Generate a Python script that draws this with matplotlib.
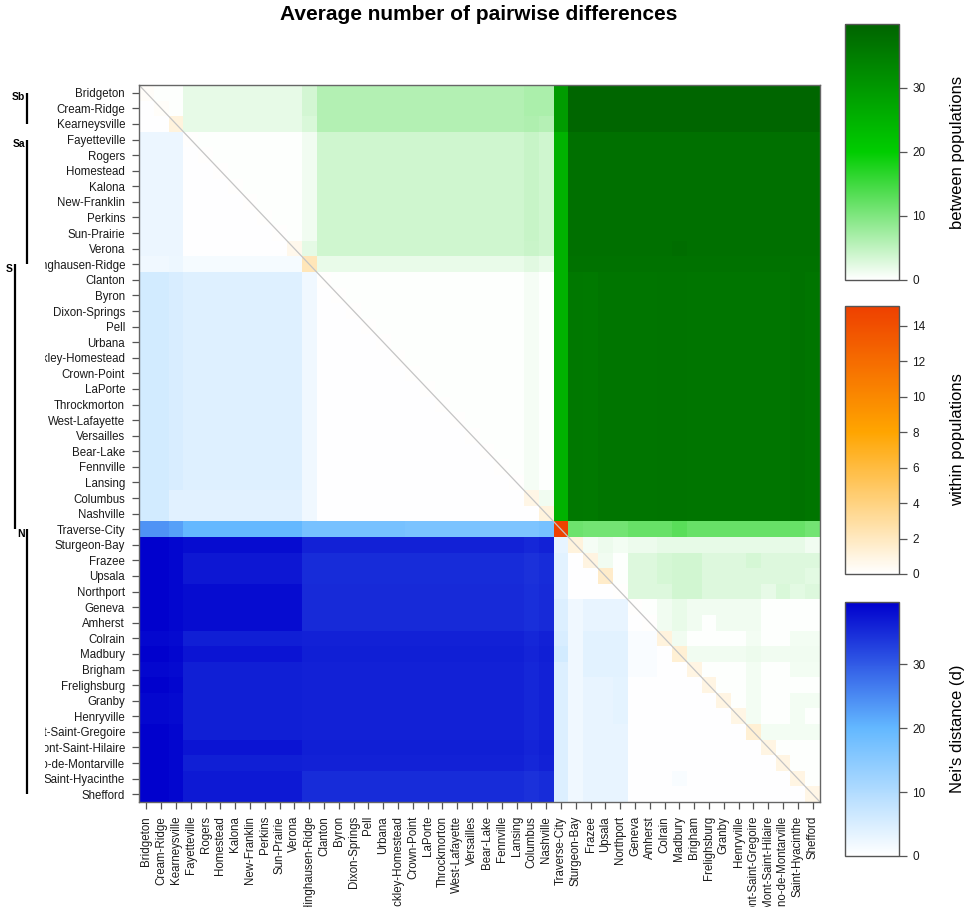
import numpy as np
import matplotlib
matplotlib.use("Agg")
import matplotlib.pyplot as plt
from matplotlib.colors import LinearSegmentedColormap, Normalize
from matplotlib.cm import ScalarMappable
from matplotlib.transforms import Bbox, TransformedBbox, blended_transform_factory

plt.rcParams['font.family'] = ['Liberation Sans', 'DejaVu Sans']

# ---------------- data ----------------
populations = ["Bridgeton", "Cream-Ridge", "Kearneysville", "Fayetteville", "Rogers",
               "Homestead", "Kalona", "New-Franklin", "Perkins", "Sun-Prairie", "Verona",
               "Hinghausen-Ridge", "Clanton", "Byron", "Dixon-Springs", "Pell", "Urbana",
               "Buckley-Homestead", "Crown-Point", "LaPorte", "Throckmorton", "West-Lafayette",
               "Versailles", "Bear-Lake", "Fennville", "Lansing", "Columbus", "Nashville",
               "Traverse-City", "Sturgeon-Bay", "Frazee", "Upsala", "Northport", "Geneva",
               "Amherst", "Colrain", "Madbury", "Brigham", "Frelighsburg", "Granby",
               "Henryville", "Mont-Saint-Gregoire", "Mont-Saint-Hilaire",
               "Saint-Bruno-de-Montarville", "Saint-Hyacinthe", "Shefford"]

group_names = ["Sb", "Sa", "S", "N"]
group_first = [1, 4, 12, 29]      # first row of each group bar (1-based)
group_last = [3, 12, 29, 46]      # last row of each group bar

# between-population values of southern S rows against the northern N columns
s_vs_n = [36.2, 36.0, 36.6, 36.6, 36.6, 36.6, 37.0, 37.0, 36.6, 36.6, 36.6, 36.6,
          36.6, 36.6, 36.6, 37.2, 36.6]

# Full matrix: upper triangle = between populations, diagonal = within,
# lower triangle = Nei's distance
pairwise = [
    [0.2, 0.3, 0.3] + [2.0]*8 + [3.5] + [6.0]*14 + [6.7, 6.7, 29.5] + [39.5]*17,
    [0.3, 0.2, 0.3] + [2.0]*8 + [3.5] + [6.0]*14 + [6.7, 6.7, 29.5] + [39.5]*17,
    [0.3, 0.3, 1.1] + [2.0]*8 + [3.1] + [6.0]*14 + [6.3, 5.9, 29.5] + [39.5]*17,
    [2.6]*3 + [0.1, 0.3, 0.3, 0.3, 0.3, 0.3, 0.3, 0.3] + [1.2] + [3.8]*14 + [4.5, 3.8, 25.0] + [37.8]*17,
    [2.6]*3 + [0.3, 0.1, 0.3, 0.3, 0.3, 0.3, 0.3, 0.3] + [1.2] + [3.8]*14 + [4.5, 3.8, 25.0] + [37.8]*17,
    [2.6]*3 + [0.3, 0.3, 0.1, 0.3, 0.3, 0.3, 0.3, 0.3] + [1.2] + [3.8]*14 + [4.5, 3.8, 25.0] + [37.8]*17,
    [2.6]*3 + [0.3, 0.3, 0.3, 0.1, 0.3, 0.3, 0.3, 0.3] + [1.2] + [3.8]*14 + [4.5, 3.8, 25.0] + [37.8]*17,
    [2.6]*3 + [0.3, 0.3, 0.3, 0.3, 0.1, 0.3, 0.3, 0.3] + [1.2] + [3.8]*14 + [4.5, 3.8, 25.0] + [37.8]*17,
    [2.6]*3 + [0.3, 0.3, 0.3, 0.3, 0.3, 0.1, 0.3, 0.3] + [1.2] + [3.8]*14 + [4.5, 3.8, 25.0] + [37.8]*17,
    [2.6]*3 + [0.3, 0.3, 0.3, 0.3, 0.3, 0.3, 0.1, 0.3] + [1.2] + [3.8]*14 + [4.5, 3.8, 25.0] + [37.8]*17,
    [2.6]*3 + [0.3, 0.3, 0.3, 0.3, 0.3, 0.3, 0.3, 0.6] + [2.1] + [3.8]*14 + [4.3, 3.8, 25.0] + [37.8]*7 + [38.2] + [37.8]*9,
    [1.9, 1.9, 2.4] + [1.3]*8 + [2.2] + [1.8]*14 + [2.4, 1.8, 25.0] + [37.2]*17,
    [5.8, 5.8, 5.1] + [4.2]*8 + [1.9] + [0.1] + [0.3]*13 + [0.8, 0.3, 25.0] + s_vs_n,
    [5.8, 5.8, 5.1] + [4.2]*8 + [1.9] + [0.3]*1 + [0.1] + [0.3]*12 + [0.8, 0.3, 25.0] + s_vs_n,
    [5.8, 5.8, 5.1] + [4.2]*8 + [1.9] + [0.3]*2 + [0.1] + [0.3]*11 + [0.8, 0.3, 25.0] + s_vs_n,
    [5.8, 5.8, 5.1] + [4.2]*8 + [1.9] + [0.3]*3 + [0.1] + [0.3]*10 + [0.8, 0.3, 25.0] + s_vs_n,
    [5.8, 5.8, 5.1] + [4.2]*8 + [1.9] + [0.3]*4 + [0.1] + [0.3]*9 + [0.8, 0.3, 25.0] + s_vs_n,
    [5.8, 5.8, 5.1] + [4.2]*8 + [1.9] + [0.3]*5 + [0.1] + [0.3]*8 + [0.8, 0.3, 25.0] + s_vs_n,
    [5.8, 5.8, 5.1] + [4.2]*8 + [1.9] + [0.3]*6 + [0.1] + [0.3]*7 + [0.8, 0.3, 25.0] + s_vs_n,
    [5.8, 5.8, 5.1] + [4.2]*8 + [1.9] + [0.3]*7 + [0.1] + [0.3]*6 + [0.8, 0.3, 25.0] + s_vs_n,
    [5.8, 5.8, 5.1] + [4.2]*8 + [1.9] + [0.3]*8 + [0.1] + [0.3]*5 + [0.8, 0.3, 25.0] + s_vs_n,
    [5.8, 5.8, 5.1] + [4.2]*8 + [1.9] + [0.3]*9 + [0.1] + [0.3]*4 + [0.8, 0.3, 25.0] + s_vs_n,
    [5.8, 5.8, 5.1] + [4.2]*8 + [1.9] + [0.3]*10 + [0.1] + [0.3]*3 + [0.8, 0.3, 25.0] + s_vs_n,
    [5.8, 5.8, 5.1] + [4.2]*8 + [1.9] + [0.3]*11 + [0.1] + [0.3]*2 + [0.8, 0.3, 25.0] + s_vs_n,
    [5.8, 5.8, 5.1] + [4.2]*8 + [1.9] + [0.3]*12 + [0.1] + [0.3]*1 + [0.8, 0.3, 25.0] + s_vs_n,
    [5.8, 5.8, 5.1] + [4.2]*8 + [1.9] + [0.3]*13 + [0.1] + [0.8, 0.3, 25.0] + s_vs_n,
    [5.8, 5.8, 4.0] + [3.9]*8 + [1.9] + [0.3]*14 + [0.8, 1.2, 25.0] + s_vs_n,
    [5.8, 5.8, 4.0] + [3.9]*8 + [1.9] + [0.3]*14 + [0.3, 1.1, 25.0] + s_vs_n,
    [24.0, 24.0, 22.5] + [20.0]*8 + [17.5] + [17.5]*6 + [17.0]*5 + [16.7]*4 + [17.5] + [15.0]
        + [11.5, 11.0, 11.0, 11.0, 12.0, 12.0, 12.0, 13.0] + [12.0]*8 + [11.0],
    [39.5, 39.5, 39.0] + [38.4]*8 + [36.0]*15 + [35.4, 36.0, 3.2]
        + [1.1, 0.8, 1.5, 1.0, 1.5, 1.5, 2.0, 2.0, 2.0, 2.0, 2.0, 2.0, 2.0, 2.0, 2.0, 2.0, 1.2],
    [39.5, 39.5, 39.0] + [37.2]*8 + [35.0]*15 + [34.4, 35.0, 3.8]
        + [0.3, 0.95, 1.2, 0.3, 2.7, 2.7, 3.3, 3.6, 3.6, 2.7, 2.7, 2.7, 3.3, 2.7, 2.7, 2.7, 2.7],
    [39.5, 39.5, 39.0] + [37.2]*8 + [35.0]*15 + [34.4, 35.0, 3.8]
        + [0.3, 0.3, 1.7, 0.3, 2.7, 2.7, 3.3, 3.6, 3.6, 2.7, 2.7, 2.7, 2.7, 2.7, 2.7, 2.7, 2.3],
    [39.5, 39.5, 39.0] + [38.4]*8 + [35.2]*15 + [34.6, 35.2, 3.8]
        + [0.3, 0.3, 0.3, 0.1, 2.7, 2.7, 2.7, 3.6, 3.6, 2.7, 2.7, 2.7, 2.7, 2.0, 3.0, 2.2, 2.7],
    [39.5, 39.5, 39.0] + [38.4]*8 + [35.2]*15 + [34.6, 35.2, 4.5]
        + [1.9, 3.0, 3.0, 3.0, 0.1, 0.3, 1.2, 1.8, 1.2, 1.2, 1.2, 1.2, 1.2, 0.3, 0.3, 0.3, 0.3],
    [39.5, 39.5, 39.0] + [38.4]*8 + [35.2]*15 + [34.6, 35.2, 4.5]
        + [1.9, 3.0, 3.0, 3.0, 0.3, 0.1, 1.2, 1.8, 1.2, 0.3, 1.2, 1.2, 1.2, 0.3, 0.3, 0.3, 0.3],
    [38.8, 38.8, 38.5] + [36.4]*8 + [36.0]*15 + [35.4, 36.0, 5.1]
        + [1.9, 3.8, 3.8, 3.8, 0.9, 0.9, 1.1, 1.2, 0.3, 0.3, 0.3, 0.3, 1.0, 0.3, 0.3, 1.0, 1.0],
    [39.5, 39.5, 39.0] + [37.4]*8 + [36.4]*15 + [35.8, 36.4, 5.8]
        + [1.9, 3.8, 3.8, 3.8, 0.9, 0.9, 0.3, 1.4, 1.2, 1.2, 1.2, 1.2, 1.5, 1.2, 1.2, 1.2, 1.2],
    [38.8, 38.8, 38.5] + [36.4]*8 + [36.0]*15 + [35.4, 36.0, 4.5]
        + [1.9, 3.8, 3.8, 3.8, 0.9, 0.9, 0.3, 0.3, 0.9, 0.3, 0.3, 0.3, 1.0, 0.3, 0.3, 1.0, 1.0],
    [39.5, 39.5, 39.0] + [36.4]*8 + [36.0]*15 + [35.4, 36.0, 4.5]
        + [1.9, 3.0, 3.0, 3.5, 0.3, 0.3, 0.3, 0.3, 0.3, 0.9, 0.3, 0.3, 1.0, 0.3, 0.3, 0.3, 0.3],
    [38.8, 38.8, 38.5] + [36.4]*8 + [36.0]*15 + [35.4, 36.0, 4.5]
        + [1.9, 3.0, 3.0, 3.5, 0.3, 0.3, 0.3, 0.3, 0.3, 0.3, 0.9, 0.3, 1.0, 0.3, 0.3, 1.0, 1.0],
    [38.8, 38.8, 38.5] + [36.4]*8 + [36.0]*15 + [35.4, 36.0, 4.5]
        + [1.9, 3.0, 3.0, 3.5, 0.3, 0.3, 0.3, 0.3, 0.3, 0.3, 0.3, 0.85, 1.0, 0.3, 0.3, 1.0, 0.3],
    [39.5, 39.5, 39.0] + [36.4]*8 + [36.0]*15 + [35.4, 36.0, 4.5]
        + [1.9, 3.0, 3.0, 3.0, 0.3, 0.3, 0.3, 0.3, 0.3, 0.3, 0.3, 0.3, 1.4, 1.0, 1.0, 1.0, 1.0],
    [39.5, 39.5, 39.0] + [37.4]*8 + [36.4]*15 + [35.8, 36.4, 4.5]
        + [1.9, 3.0, 3.0, 3.0, 0.3, 0.3, 0.3, 0.3, 0.3, 0.3, 0.3, 0.3, 0.3, 0.9, 0.3, 0.3, 0.3],
    [39.5, 39.5, 39.0] + [36.4]*8 + [36.0]*15 + [35.4, 36.0, 4.5]
        + [1.9, 3.0, 3.0, 3.0, 0.3, 0.3, 0.3, 0.3, 0.3, 0.3, 0.3, 0.3, 0.3, 0.3, 0.9, 0.3, 0.3],
    [39.5, 39.5, 39.0] + [37.0]*8 + [35.0]*15 + [34.4, 35.0, 4.5]
        + [1.9, 3.0, 3.0, 3.0, 0.3, 0.3, 0.3, 1.0, 0.3, 0.3, 0.3, 0.3, 0.3, 0.3, 0.3, 0.9, 0.3],
    [39.5, 39.5, 39.0] + [37.0]*8 + [35.0]*15 + [34.4, 35.0, 4.5]
        + [1.9, 3.0, 3.0, 3.0, 0.3, 0.3, 0.3, 0.3, 0.3, 0.3, 0.3, 0.3, 0.3, 0.3, 0.3, 0.3, 0.8],
]

between_ticks = [0, 10, 20, 30]
within_ticks = [0, 2, 4, 6, 8, 10, 12, 14]
nei_ticks = [0, 10, 20, 30]

# ---------------- figure ----------------
W, H = 974, 909
fig = plt.figure(figsize=(W / 100, H / 100), dpi=100)

M = np.array(pairwise, dtype=float)
n = len(populations)
ii, jj = np.indices((n, n))

cm_between = LinearSegmentedColormap.from_list(
    "between", [(0.0, "#ffffff"), (0.5, "#00cd00"), (1.0, "#006400")])
cm_within = LinearSegmentedColormap.from_list(
    "within", [(0.0, "#ffffff"), (8 / 15.1, "#ffa500"), (1.0, "#ee4000")])
cm_nei = LinearSegmentedColormap.from_list(
    "nei", [(0.0, "#ffffff"), (20 / 39.7, "#63b8ff"), (1.0, "#0000cd")])
norm_between = Normalize(0, 40)
norm_within = Normalize(0, 15.1)
norm_nei = Normalize(0, 39.7)

ax = fig.add_axes([139 / W, 1 - 802 / H, (820 - 139) / W, (802 - 85) / H])
edges = np.arange(n + 1)
kw = dict(shading="flat", edgecolors="none", antialiased=False)
ax.pcolormesh(edges, edges, np.ma.masked_where(jj <= ii, M), cmap=cm_between, norm=norm_between, **kw)
ax.pcolormesh(edges, edges, np.ma.masked_where(jj >= ii, M), cmap=cm_nei, norm=norm_nei, **kw)
ax.pcolormesh(edges, edges, np.ma.masked_where(jj != ii, M), cmap=cm_within, norm=norm_within, **kw)
ax.plot([0, n], [0, n], color="#c4c4c4", lw=0.9)
ax.set_xlim(0, n)
ax.set_ylim(n, 0)

centers = np.arange(n) + 0.5
ax.set_xticks(centers)
ax.set_xticklabels(populations, rotation=90, fontsize=8.3, color="#1a1a1a")
ax.set_yticks(centers)
ax.set_yticklabels(populations, fontsize=8.3, color="#1a1a1a")
ax.tick_params(length=5, width=0.9, color="#555555", pad=5)
for sp in ax.spines.values():
    sp.set_color("#666666")
    sp.set_linewidth(1.0)

clip_left = TransformedBbox(Bbox.from_extents(45 / W, 0, 1, 1), fig.transFigure)
for t in ax.get_yticklabels():
    t.set_clip_box(clip_left)
    t.set_clip_on(True)
clip_bottom = TransformedBbox(Bbox.from_extents(0, 2 / H, 1, 1), fig.transFigure)
for t in ax.get_xticklabels():
    t.set_clip_box(clip_bottom)
    t.set_clip_on(True)

# group bars on the left
trans = blended_transform_factory(fig.transFigure, ax.transData)
bar_x = [27, 27, 15, 27]
for name, a, b, bx in zip(group_names, group_first, group_last, bar_x):
    ax.plot([bx / W, bx / W], [a - 0.5, b - 0.5], color="black", lw=1.6,
            transform=trans, clip_on=False, solid_capstyle="butt")
    ax.text((bx - 2) / W, a - 0.5 + 0.3, name, transform=trans, ha="right", va="center",
            fontsize=7.5, fontweight="bold", clip_on=False)

fig.text(478.5 / W, 1 - 15 / H, "Average number of pairwise differences",
         ha="center", va="center", fontsize=15, fontweight="bold")

# colorbars
bars = [
    (cm_between, norm_between, between_ticks, "between populations", 24, 280),
    (cm_within, norm_within, within_ticks, "within populations", 306, 574),
    (cm_nei, norm_nei, nei_ticks, "Nei's distance (d)", 602, 856),
]
for cmap, norm, ticks, label, top, bot in bars:
    cax = fig.add_axes([845 / W, 1 - bot / H, 54 / W, (bot - top) / H])
    cb = fig.colorbar(ScalarMappable(norm=norm, cmap=cmap), cax=cax, ticks=ticks)
    cb.outline.set_edgecolor("#555555")
    cb.outline.set_linewidth(1.0)
    cax.tick_params(labelsize=8.5, length=6, width=0.9, color="#555555", labelcolor="#1a1a1a")
    cb.set_label(label, fontsize=12, labelpad=18)

fig.savefig("out.png", dpi=100)
